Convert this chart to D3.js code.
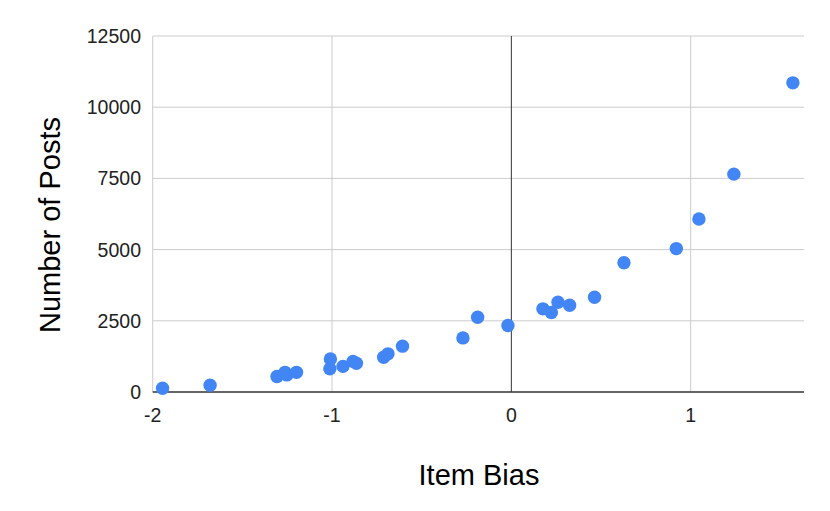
<!DOCTYPE html>
<html>
<head>
<meta charset="utf-8">
<script src="https://cdn.jsdelivr.net/npm/d3@7"></script>
<style>
  html, body { margin: 0; padding: 0; background: #fff; }
  svg { display: block; font-family: Arial, "Liberation Sans", sans-serif; }
</style>
</head>
<body>
<svg id="chart" width="830" height="511"></svg>
<script>
// Data
const itemBias = [-1.945, -1.68, -1.307, -1.262, -1.252, -1.198, -1.009, -1.012, -0.939, -0.883, -0.864,
  -0.712, -0.688, -0.607, -0.27, -0.188, -0.019, 0.176, 0.223, 0.26, 0.325, 0.464, 0.628, 0.92, 1.046, 1.241, 1.57];
const numPosts = [133, 240, 543, 690, 600, 690, 1160, 815, 900, 1075, 1010,
  1220, 1340, 1610, 1900, 2625, 2335, 2920, 2790, 3150, 3045, 3325, 4540, 5035, 6075, 7650, 10855];
const xTicks = [-2, -1, 0, 1];
const yTicks = [0, 2500, 5000, 7500, 10000, 12500];
const xTitle = "Item Bias";
const yTitle = "Number of Posts";

const svg = d3.select("#chart");
const pLeft = 152.7, pRight = 804, pTop = 36, pBottom = 392;

const x = d3.scaleLinear().domain([-2, 1.632]).range([pLeft, pRight]);
const y = d3.scaleLinear().domain([0, 12500]).range([pBottom, pTop]);

// Horizontal gridlines
svg.append("g").selectAll("line").data(yTicks.filter(d => d !== 0)).join("line")
  .attr("x1", pLeft).attr("x2", pRight)
  .attr("y1", d => y(d)).attr("y2", d => y(d))
  .attr("stroke", "#cccccc").attr("stroke-width", 1);

// Vertical gridlines
svg.append("g").selectAll("line").data(xTicks.filter(d => d !== 0)).join("line")
  .attr("x1", d => x(d)).attr("x2", d => x(d))
  .attr("y1", pTop).attr("y2", pBottom)
  .attr("stroke", "#cccccc").attr("stroke-width", 1);

// Zero lines
svg.append("line").attr("x1", x(0)).attr("x2", x(0)).attr("y1", pTop).attr("y2", pBottom)
  .attr("stroke", "#333333").attr("stroke-width", 1);
svg.append("line").attr("x1", pLeft).attr("x2", pRight).attr("y1", y(0)).attr("y2", y(0))
  .attr("stroke", "#333333").attr("stroke-width", 1.3);

// Y tick labels
svg.append("g").selectAll("text").data(yTicks).join("text")
  .attr("x", 141).attr("y", d => y(d)).attr("dy", "0.36em")
  .attr("text-anchor", "end").attr("font-size", 19.5).attr("fill", "#222")
  .text(d => d);

// X tick labels
svg.append("g").selectAll("text").data(xTicks).join("text")
  .attr("x", d => x(d)).attr("y", 421.5)
  .attr("text-anchor", "middle").attr("font-size", 19.5).attr("fill", "#222")
  .text(d => d);

// Points
svg.append("g").selectAll("circle").data(itemBias.map((b, i) => [b, numPosts[i]])).join("circle")
  .attr("cx", d => x(d[0])).attr("cy", d => y(d[1])).attr("r", 6.7)
  .attr("fill", "#4285F4");

// Axis titles
svg.append("text").attr("x", 479).attr("y", 485).attr("text-anchor", "middle")
  .attr("font-size", 29).attr("fill", "#000").text(xTitle);
svg.append("text").attr("transform", "translate(60,225) rotate(-90)")
  .attr("text-anchor", "middle").attr("font-size", 29).attr("fill", "#000").text(yTitle);
</script>
</body>
</html>
